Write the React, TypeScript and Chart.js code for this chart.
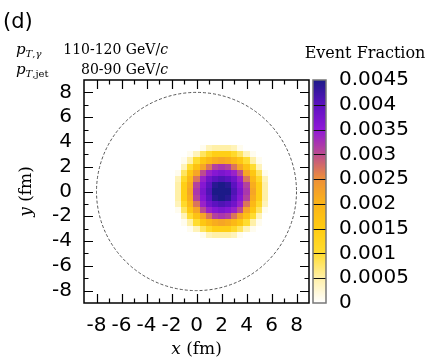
import React, { useEffect, useRef } from 'react';
import { Chart, registerables } from 'chart.js';

Chart.register(...registerables);

// ---------- data ----------
const X_TICKS = [-8, -6, -4, -2, 0, 2, 4, 6, 8];
const Y_TICKS = [-8, -6, -4, -2, 0, 2, 4, 6, 8];
const CB_TICKS = [0, 0.0005, 0.001, 0.0015, 0.002, 0.0025, 0.003, 0.0035, 0.004, 0.0045];
const AXIS_MIN = -9;
const AXIS_MAX = 9;
const CB_MIN = 0;
const CB_MAX = 0.0045;
const CIRCLE_RADIUS = 8; // fm, dashed nucleus outline

// heat-map cells (0.5 fm bins), centres
const CELL_SIZE = 0.5;
const CELL_X = [-1.5, -1, -0.5, 0, 0.5, 1, 1.5, 2, 2.5, 3, 3.5, 4, 4.5, 5, 5.5];
const CELL_Y = [3.5, 3, 2.5, 2, 1.5, 1, 0.5, 0, -0.5, -1, -1.5, -2, -2.5, -3, -3.5];
// event fraction in units of 1e-4, rows top (y=3.5) to bottom (y=-3.5)
const FRACTION_E4 = [
  [0, 0, 0, 0, 1, 4, 5, 5, 5, 4, 1, 0, 0, 0, 0],
  [0, 0, 1, 4, 8, 11, 14, 14, 14, 11, 8, 4, 1, 0, 0],
  [0, 1, 5, 10, 16, 19, 21, 22, 21, 19, 16, 10, 5, 1, 0],
  [0, 4, 10, 17, 22, 27, 31, 32, 31, 27, 22, 17, 10, 4, 0],
  [1, 8, 16, 22, 30, 34, 36, 37, 36, 34, 30, 22, 16, 8, 1],
  [4, 11, 19, 27, 34, 38, 40, 41, 40, 38, 34, 27, 19, 11, 4],
  [5, 14, 21, 31, 36, 40, 44, 45, 44, 40, 36, 31, 21, 14, 5],
  [5, 14, 22, 32, 37, 41, 45, 46, 45, 41, 37, 32, 22, 14, 5],
  [5, 14, 21, 31, 36, 40, 44, 45, 44, 40, 36, 31, 21, 14, 5],
  [4, 11, 19, 27, 34, 38, 40, 41, 40, 38, 34, 27, 19, 11, 4],
  [1, 8, 16, 22, 30, 34, 36, 37, 36, 34, 30, 22, 16, 8, 1],
  [0, 4, 10, 17, 22, 27, 31, 32, 31, 27, 22, 17, 10, 4, 0],
  [0, 1, 5, 10, 16, 19, 21, 22, 21, 19, 16, 10, 5, 1, 0],
  [0, 0, 1, 4, 8, 11, 14, 14, 14, 11, 8, 4, 1, 0, 0],
  [0, 0, 0, 0, 1, 4, 5, 5, 5, 4, 1, 0, 0, 0, 0],
];
const FRACTION_UNIT = 1e-4;

// palette
const PAL_VALUES = [0, 0.0005, 0.001, 0.0015, 0.002, 0.0025, 0.003, 0.0035, 0.004, 0.0045];
const PAL_COLORS = ['#ffffff', '#fff0a8', '#ffdc30', '#ffcc10', '#fbb418', '#ee9038', '#bc4c90', '#9018d8', '#5c12c0', '#1c1a88'];

// ---------- helpers ----------
const SANS = '"DejaVu Sans", sans-serif';
const SERIF = '"DejaVu Serif", serif';

function hexToRgb(h: string) {
  const n = parseInt(h.slice(1), 16);
  return [(n >> 16) & 255, (n >> 8) & 255, n & 255];
}
const PAL_RGB = PAL_COLORS.map(hexToRgb);

function colorFor(v: number) {
  if (v <= PAL_VALUES[0]) return PAL_COLORS[0];
  const last = PAL_VALUES.length - 1;
  if (v >= PAL_VALUES[last]) return PAL_COLORS[last];
  let i = 0;
  while (v > PAL_VALUES[i + 1]) i++;
  const t = (v - PAL_VALUES[i]) / (PAL_VALUES[i + 1] - PAL_VALUES[i]);
  const a = PAL_RGB[i];
  const b = PAL_RGB[i + 1];
  const c = a.map((av, k) => Math.round(av + (b[k] - av) * t));
  return `rgb(${c[0]},${c[1]},${c[2]})`;
}

function fmt(v: number) {
  return String(Number(v.toFixed(6)));
}

type Run = { text: string; font: string; dy?: number };
function drawRuns(ctx: CanvasRenderingContext2D, x: number, y: number, runs: Run[], align: 'left' | 'center' | 'right') {
  let total = 0;
  for (const r of runs) {
    ctx.font = r.font;
    total += ctx.measureText(r.text).width;
  }
  let cx = align === 'left' ? x : align === 'center' ? x - total / 2 : x - total;
  ctx.textAlign = 'left';
  ctx.textBaseline = 'alphabetic';
  for (const r of runs) {
    ctx.font = r.font;
    ctx.fillText(r.text, cx, y + (r.dy || 0));
    cx += ctx.measureText(r.text).width;
  }
}

const heatmapPlugin = {
  id: 'heatmap',
  beforeDatasetsDraw(chart: any) {
    const { ctx, scales } = chart;
    const xs = scales.x;
    const ys = scales.y;
    const data = chart.data.datasets[0].data as { x: number; y: number; v: number }[];
    ctx.save();
    for (const d of data) {
      if (d.v <= 0) continue;
      const x0 = Math.round(xs.getPixelForValue(d.x - CELL_SIZE / 2));
      const x1 = Math.round(xs.getPixelForValue(d.x + CELL_SIZE / 2));
      const y0 = Math.round(ys.getPixelForValue(d.y + CELL_SIZE / 2));
      const y1 = Math.round(ys.getPixelForValue(d.y - CELL_SIZE / 2));
      ctx.fillStyle = colorFor(d.v);
      ctx.fillRect(x0, y0, x1 - x0, y1 - y0);
    }
    // dashed circle
    const cx = xs.getPixelForValue(0);
    const cy = ys.getPixelForValue(0);
    const rx = Math.abs(xs.getPixelForValue(CIRCLE_RADIUS) - cx);
    const ry = Math.abs(ys.getPixelForValue(CIRCLE_RADIUS) - cy);
    ctx.beginPath();
    ctx.setLineDash([3, 2]);
    ctx.strokeStyle = '#444';
    ctx.lineWidth = 0.9;
    ctx.ellipse(cx, cy, rx, ry, 0, 0, Math.PI * 2);
    ctx.stroke();
    ctx.setLineDash([]);
    ctx.restore();
  },
  afterDraw(chart: any) {
    const { ctx, scales, chartArea } = chart;
    const xs = scales.x;
    const ys = scales.y;
    const cb = scales.cb;
    const { left, right, top, bottom } = chartArea;
    ctx.save();
    // frame
    ctx.strokeStyle = '#000';
    ctx.lineWidth = 1.5;
    ctx.strokeRect(left, top, right - left, bottom - top);
    // inward ticks (major at labelled values, minor between)
    ctx.lineWidth = 1.2;
    for (let v = X_TICKS[0]; v <= X_TICKS[X_TICKS.length - 1]; v += 1) {
      const len = X_TICKS.includes(v) ? 9 : 4.5;
      const px = Math.round(xs.getPixelForValue(v)) + 0.5;
      ctx.beginPath();
      ctx.moveTo(px, bottom);
      ctx.lineTo(px, bottom - len);
      ctx.moveTo(px, top);
      ctx.lineTo(px, top + len);
      ctx.stroke();
    }
    for (let v = Y_TICKS[0]; v <= Y_TICKS[Y_TICKS.length - 1]; v += 1) {
      const len = Y_TICKS.includes(v) ? 9 : 4.5;
      const py = Math.round(ys.getPixelForValue(v)) + 0.5;
      ctx.beginPath();
      ctx.moveTo(left, py);
      ctx.lineTo(left + len, py);
      ctx.moveTo(right, py);
      ctx.lineTo(right - len, py);
      ctx.stroke();
    }
    // colour bar
    const bx0 = cb.left + 4;
    const bx1 = cb.left + 17;
    const by0 = cb.getPixelForValue(CB_MAX);
    const by1 = cb.getPixelForValue(CB_MIN);
    for (let py = Math.floor(by0); py < Math.ceil(by1); py++) {
      const v = cb.getValueForPixel(py + 0.5);
      ctx.fillStyle = colorFor(v);
      ctx.fillRect(bx0, py, bx1 - bx0, 1);
    }
    ctx.strokeStyle = '#111';
    ctx.lineWidth = 1;
    for (const t of CB_TICKS) {
      if (t === CB_MIN || t === CB_MAX) continue;
      const py = Math.round(cb.getPixelForValue(t)) + 0.5;
      ctx.beginPath();
      ctx.moveTo(bx0, py);
      ctx.lineTo(bx1, py);
      ctx.stroke();
    }
    ctx.strokeStyle = '#777';
    ctx.lineWidth = 1.5;
    ctx.strokeRect(bx0, by0, bx1 - bx0, by1 - by0);

    // texts
    ctx.fillStyle = '#000';
    ctx.font = `21px ${SANS}`;
    ctx.textAlign = 'left';
    ctx.textBaseline = 'alphabetic';
    ctx.fillText('(d)', 3, 28);

    drawRuns(ctx, 16, 54, [
      { text: 'p', font: `italic 15px ${SERIF}` },
      { text: 'T', font: `italic 10px ${SERIF}`, dy: 3 },
      { text: ',', font: `10px ${SERIF}`, dy: 3 },
      { text: 'γ', font: `italic 10px ${SERIF}`, dy: 3 },
    ], 'left');
    drawRuns(ctx, 168, 54, [
      { text: '110-120 GeV/', font: `14px ${SERIF}` },
      { text: 'c', font: `italic 14px ${SERIF}` },
    ], 'right');
    drawRuns(ctx, 16, 74, [
      { text: 'p', font: `italic 15px ${SERIF}` },
      { text: 'T', font: `italic 10px ${SERIF}`, dy: 3 },
      { text: ',jet', font: `10px ${SERIF}`, dy: 3 },
    ], 'left');
    drawRuns(ctx, 168, 74, [
      { text: '80-90 GeV/', font: `14px ${SERIF}` },
      { text: 'c', font: `italic 14px ${SERIF}` },
    ], 'right');

    drawRuns(ctx, right + 56, 58, [{ text: 'Event Fraction', font: `16px ${SERIF}` }], 'center');

    drawRuns(ctx, (left + right) / 2, 354, [
      { text: 'x', font: `italic 17px ${SERIF}` },
      { text: ' (fm)', font: `17px ${SERIF}` },
    ], 'center');

    ctx.save();
    ctx.translate(31, (top + bottom) / 2);
    ctx.rotate(-Math.PI / 2);
    drawRuns(ctx, 0, 0, [
      { text: 'y', font: `italic 17px ${SERIF}` },
      { text: ' (fm)', font: `17px ${SERIF}` },
    ], 'center');
    ctx.restore();

    ctx.restore();
  },
};

export default function App() {
  const ref = useRef<HTMLCanvasElement | null>(null);
  useEffect(() => {
    if (!ref.current) return;
    const cells: { x: number; y: number; v: number }[] = [];
    CELL_Y.forEach((y, r) => {
      CELL_X.forEach((x, c) => {
        cells.push({ x, y, v: FRACTION_E4[r][c] * FRACTION_UNIT });
      });
    });
    const tickFont = { family: SANS, size: 20 };
    const chart = new Chart(ref.current, {
      type: 'scatter',
      data: { datasets: [{ data: cells as any, pointRadius: 0, pointHoverRadius: 0 }] },
      options: {
        animation: false,
        responsive: false,
        events: [],
        layout: { padding: { top: 80, left: 0, right: 0, bottom: 0 } },
        plugins: { legend: { display: false }, tooltip: { enabled: false } },
        scales: {
          x: {
            type: 'linear',
            position: 'bottom',
            min: AXIS_MIN,
            max: AXIS_MAX,
            afterBuildTicks: (s: any) => { s.ticks = X_TICKS.map((value) => ({ value })); },
            afterFit: (s: any) => { s.height = 59; },
            grid: { display: false, drawTicks: false },
            border: { display: false },
            ticks: { font: tickFont, color: '#000', padding: 11, autoSkip: false, maxRotation: 0, callback: (v: any) => fmt(Number(v)) },
          },
          y: {
            type: 'linear',
            position: 'left',
            min: AXIS_MIN,
            max: AXIS_MAX,
            afterBuildTicks: (s: any) => { s.ticks = Y_TICKS.map((value) => ({ value })); },
            afterFit: (s: any) => { s.width = 84; },
            grid: { display: false, drawTicks: false },
            border: { display: false },
            ticks: { font: tickFont, color: '#000', padding: 12, autoSkip: false, callback: (v: any) => fmt(Number(v)) },
          },
          cb: {
            type: 'linear',
            position: 'right',
            min: CB_MIN,
            max: CB_MAX,
            afterBuildTicks: (s: any) => { s.ticks = CB_TICKS.map((value) => ({ value })); },
            afterFit: (s: any) => { s.width = 127; },
            grid: { display: false, drawTicks: false },
            border: { display: false },
            ticks: { font: tickFont, color: '#000', padding: 30, autoSkip: false, callback: (v: any) => fmt(Number(v)) },
          },
        } as any,
      },
      plugins: [heatmapPlugin],
    });
    return () => chart.destroy();
  }, []);
  return (
    <div style={{ position: 'fixed', left: 0, top: 0, width: 436, height: 362, background: '#fff' }}>
      <canvas ref={ref} width={436} height={362} style={{ width: 436, height: 362, display: 'block' }} />
    </div>
  );
}
